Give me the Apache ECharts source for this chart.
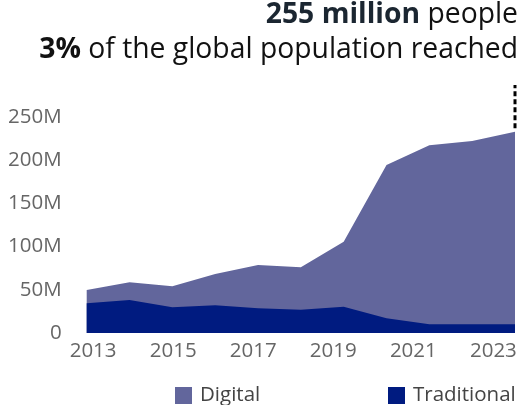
<!DOCTYPE html>
<html>
<head>
<meta charset="utf-8">
<script src="https://cdn.jsdelivr.net/npm/echarts@6/dist/echarts.min.js"></script>
<style>
html,body{margin:0;padding:0;background:#fff;}
#chart{width:522px;height:405px;}
</style>
</head>
<body>
<div id="chart"></div>
<script>
// Data (values in millions of people)
const years = [2012.84, 2013.91, 2014.98, 2016.05, 2017.12, 2018.19, 2019.26, 2020.33, 2021.40, 2022.47, 2023.54];
const traditional = [34.4, 38.2, 29.7, 32.2, 28.6, 26.8, 30.4, 17.0, 10.0, 10.0, 10.0];
const digital = [15.4, 20.4, 24.3, 36.1, 50.1, 49.4, 75.3, 177.4, 207.2, 212.2, 223.0];
const xTickLabels = [2013, 2015, 2017, 2019, 2021, 2023];
const yTicks = [0, 50, 100, 150, 200, 250];
const markerYears = [2023.54, 2023.54];
const markerValues = [237, 287];

const FONT = "'Open Sans', 'Noto Sans', sans-serif";
const COL_DIGITAL = '#62669c';
const COL_TRAD = '#001b80';

// Digital sits on top of Traditional: its upper edge is the running total
const digitalTop = digital.map((v, i) => v + traditional[i]);

const legendText = {color: '#444', fontFamily: FONT, fontSize: 20.5, padding: [0, 0, 0, 3]};

const chart = echarts.init(document.getElementById('chart'), null, {renderer: 'canvas'});
chart.setOption({
  animation: false,
  grid: {left: 86.7, right: 7, top: 82.4, bottom: 72},
  xAxis: {
    type: 'value',
    min: years[0],
    max: years[years.length - 1],
    splitLine: {show: false},
    axisLine: {show: false},
    axisTick: {show: false},
    axisLabel: {
      customValues: xTickLabels,
      formatter: v => String(Math.round(v)),
      color: '#666',
      fontFamily: FONT,
      fontSize: 20.5,
      margin: 8
    }
  },
  yAxis: {
    type: 'value',
    min: 0,
    max: 290,
    splitLine: {show: false},
    axisLine: {show: false},
    axisTick: {show: false},
    axisLabel: {
      customValues: yTicks,
      formatter: v => v === 0 ? '0' : v + 'M',
      color: '#666',
      fontFamily: FONT,
      fontSize: 20.5,
      margin: 25
    }
  },
  legend: [
    {data: ['Digital'], left: 175, top: 385, padding: 0, itemWidth: 17, itemHeight: 17, icon: 'rect', textStyle: legendText},
    {data: ['Traditional'], left: 388, top: 385, padding: 0, itemWidth: 17, itemHeight: 17, icon: 'rect', textStyle: legendText}
  ],
  graphic: [
    {
      type: 'text', right: 4, top: 1,
      style: {
        text: '{b|255 million}{r| people}',
        rich: {
          b: {fontFamily: FONT, fontSize: 28.3, fontWeight: 'bold', fill: '#1b2631'},
          r: {fontFamily: FONT, fontSize: 28.3, fill: '#111'}
        }
      }
    },
    {
      type: 'text', right: 4, top: 36,
      style: {
        text: '{b|3%}{r| of the global population reached}',
        rich: {
          b: {fontFamily: FONT, fontSize: 28.3, fontWeight: 'bold', fill: '#111'},
          r: {fontFamily: FONT, fontSize: 28.3, fill: '#111'}
        }
      }
    }
  ],
  series: [
    {
      name: 'Digital', type: 'line',
      data: years.map((y, i) => [y, digitalTop[i]]),
      showSymbol: false, symbol: 'none',
      lineStyle: {width: 0},
      itemStyle: {color: COL_DIGITAL},
      areaStyle: {color: COL_DIGITAL, opacity: 1},
      z: 2
    },
    {
      name: 'Traditional', type: 'line',
      data: years.map((y, i) => [y, traditional[i]]),
      showSymbol: false, symbol: 'none',
      lineStyle: {width: 0},
      itemStyle: {color: COL_TRAD},
      areaStyle: {color: COL_TRAD, opacity: 1},
      z: 3
    },
    {
      name: 'marker', type: 'line',
      data: markerYears.map((y, i) => [y, markerValues[i]]),
      showSymbol: false, symbol: 'none',
      lineStyle: {color: '#000', width: 3, type: [5, 3]},
      silent: true, z: 4
    }
  ]
});
</script>
</body>
</html>
